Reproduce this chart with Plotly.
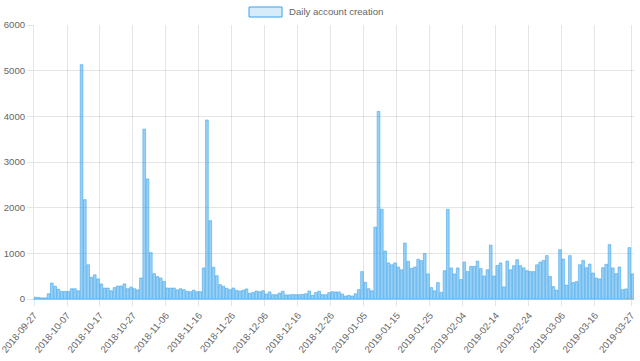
import datetime as dt
import plotly.graph_objects as go

start_date = "2018-09-27"
daily_counts = [
    40, 30, 25, 25, 115, 350, 280, 215, 165, 165,
    165, 225, 225, 180, 5130, 2175, 750, 475, 530, 440,
    330, 240, 240, 180, 250, 285, 285, 330, 225, 260,
    225, 200, 460, 3720, 2630, 1015, 555, 490, 460, 385,
    240, 240, 240, 200, 225, 205, 170, 160, 195, 160,
    160, 680, 3920, 1715, 695, 510, 315, 280, 235, 205,
    240, 190, 175, 195, 220, 125, 145, 175, 160, 180,
    110, 155, 95, 95, 130, 170, 90, 90, 100, 95,
    95, 100, 115, 175, 80, 140, 170, 95, 95, 140,
    160, 155, 155, 110, 65, 80, 65, 115, 205, 600,
    365, 225, 180, 1575, 4110, 1965, 1050, 790, 750, 790,
    700, 640, 1225, 825, 670, 700, 870, 840, 995, 550,
    250, 180, 360, 145, 620, 1965, 680, 550, 680, 425,
    810, 600, 715, 715, 830, 665, 505, 640, 1180, 505,
    735, 790, 265, 830, 640, 730, 860, 730, 680, 620,
    600, 600, 750, 810, 845, 950, 495, 270, 195, 1080,
    875, 305, 950, 360, 380, 750, 845, 685, 765, 570,
    460, 440, 685, 760, 1190, 680, 555, 700, 205, 220,
    1125, 550,
]
tick_labels = [
    "2018-09-27", "2018-10-07", "2018-10-17", "2018-10-27", "2018-11-06",
    "2018-11-16", "2018-11-26", "2018-12-06", "2018-12-16", "2018-12-26",
    "2019-01-05", "2019-01-15", "2019-01-25", "2019-02-04", "2019-02-14",
    "2019-02-24", "2019-03-06", "2019-03-16", "2019-03-27",
]
y_ticks = [0, 1000, 2000, 3000, 4000, 5000, 6000]
series_name = "Daily account creation"

d0 = dt.datetime.strptime(start_date, "%Y-%m-%d")
dates = [d0 + dt.timedelta(days=i) for i in range(len(daily_counts))]
last = dates[-1]

FONT = "Liberation Sans, Arial, sans-serif"
GRID = "rgba(0,0,0,0.1)"

fig = go.Figure()
fig.add_trace(go.Bar(
    x=dates, y=daily_counts, name=series_name,
    width=0.82 * 86400000, offset=0,
    marker=dict(color="rgba(54,162,235,0.5)",
                line=dict(color="rgba(54,162,235,0.9)", width=0.6)),
    showlegend=False,
))

fig.update_layout(
    width=640, height=361,
    margin=dict(l=34, r=6, t=25, b=62),
    paper_bgcolor="white", plot_bgcolor="white",
    font=dict(family=FONT, size=9.6, color="#666"),
    bargap=0,
    xaxis=dict(
        type="date", automargin=False,
        range=[d0, last + dt.timedelta(hours=20)],
        tickvals=[dt.datetime.strptime(t, "%Y-%m-%d") for t in tick_labels],
        ticktext=tick_labels,
        tickangle=-50,
        ticklabeloverflow="allow",
        showgrid=True, gridcolor=GRID, gridwidth=1,
        ticks="outside", ticklen=6, tickcolor=GRID,
        showline=True, linecolor="rgba(0,0,0,0.25)", linewidth=1,
        tickfont=dict(family=FONT, size=9.6, color="#666"),
        zeroline=False,
    ),
    yaxis=dict(
        range=[0, 6000], automargin=False,
        tickvals=y_ticks,
        showgrid=True, gridcolor=GRID, gridwidth=1,
        ticks="outside", ticklen=6, tickcolor=GRID,
        showline=True, linecolor=GRID, linewidth=1,
        zeroline=False,
        tickfont=dict(family=FONT, size=9.6, color="#666"),
    ),
)

# legend drawn as a box + label at the top centre
fig.add_shape(type="rect", xref="paper", yref="paper",
              x0=(249 - 34) / 600, x1=(282 - 34) / 600,
              y0=(299 - 17) / 274, y1=(299 - 7) / 274,
              fillcolor="rgba(54,162,235,0.2)",
              line=dict(color="rgb(54,162,235)", width=1))
fig.add_annotation(xref="paper", yref="paper",
                   x=(287 - 34) / 600, y=(299 - 12) / 274,
                   xanchor="left", yanchor="middle", showarrow=False,
                   text=series_name,
                   font=dict(family=FONT, size=9.6, color="#666"))

fig.write_html("out.html",
               config={"displayModeBar": False, "staticPlot": True},
               post_script="document.body.style.margin='0';document.body.style.overflow='hidden';")
